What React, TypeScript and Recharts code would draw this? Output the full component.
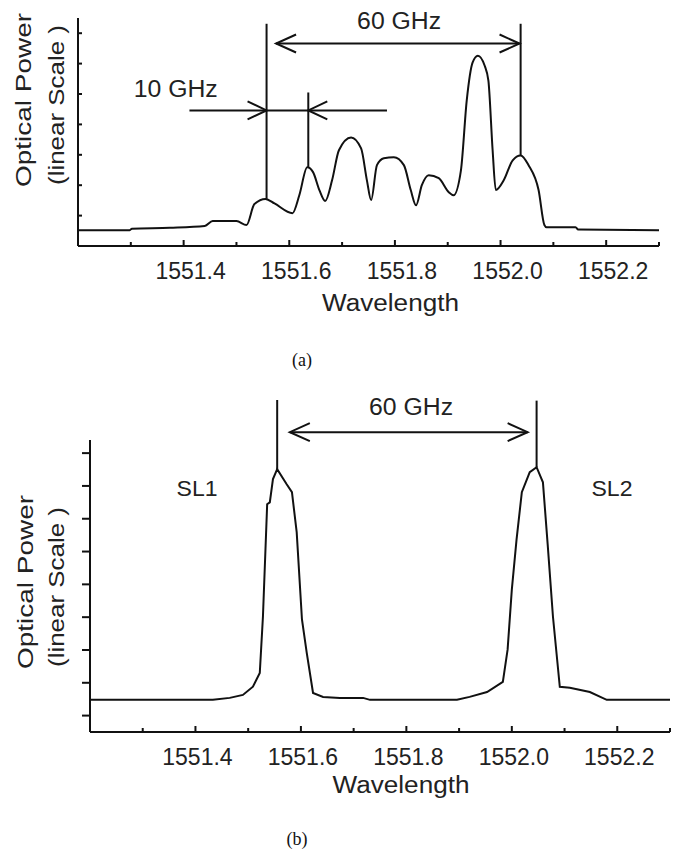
import React from 'react';
import { LineChart, Line, XAxis, YAxis, ReferenceLine, ReferenceDot, Label } from 'recharts';

// ---------- data ----------
const topWavelength = [
  1551.2, 1551.298, 1551.302, 1551.374, 1551.44, 1551.455, 1551.5, 1551.519, 1551.534, 1551.555,
  1551.572, 1551.606, 1551.619, 1551.634, 1551.645, 1551.657, 1551.668, 1551.681, 1551.694, 1551.717,
  1551.736, 1551.747, 1551.755, 1551.766, 1551.779, 1551.798, 1551.817, 1551.83, 1551.84, 1551.851,
  1551.864, 1551.883, 1551.902, 1551.911, 1551.925, 1551.936, 1551.947, 1551.957, 1551.97, 1551.977,
  1551.985, 1551.991, 1552.006, 1552.023, 1552.038, 1552.053, 1552.072, 1552.083, 1552.087, 1552.142,
  1552.147, 1552.3,
];
const topPower = [
  0.52, 0.52, 0.57, 0.6, 0.66, 0.82, 0.82, 0.69, 1.38, 1.55,
  1.4, 1.08, 1.67, 2.59, 2.43, 1.84, 1.48, 2.16, 3.15, 3.57,
  3.21, 2.16, 1.51, 2.66, 2.89, 2.92, 2.66, 1.84, 1.34, 2.0,
  2.33, 2.23, 1.77, 1.67, 2.49, 4.79, 6.03, 6.26, 5.93, 5.44,
  3.15, 1.84, 2.16, 2.82, 2.98, 2.66, 1.84, 0.69, 0.62, 0.62,
  0.54, 0.52,
];

const bottomWavelength = [
  1551.2, 1551.433, 1551.465, 1551.49, 1551.509, 1551.522, 1551.528, 1551.536, 1551.541, 1551.547,
  1551.555, 1551.573, 1551.583, 1551.592, 1551.602, 1551.611, 1551.623, 1551.642, 1551.674, 1551.718,
  1551.731, 1551.896, 1551.92, 1551.953, 1551.983, 1551.992, 1552.0, 1552.009, 1552.019, 1552.034,
  1552.047, 1552.059, 1552.068, 1552.078, 1552.091, 1552.11, 1552.148, 1552.18, 1552.3,
];
const bottomPower = [
  1.48, 1.48, 1.54, 1.63, 1.88, 2.3, 4.02, 7.44, 7.5, 8.21,
  8.51, 8.05, 7.81, 6.59, 3.93, 2.92, 1.69, 1.57, 1.54, 1.54,
  1.48, 1.48, 1.57, 1.72, 2.03, 3.01, 4.84, 6.37, 7.81, 8.42,
  8.57, 8.11, 6.22, 4.02, 1.88, 1.85, 1.72, 1.48, 1.48,
];

const xTicks = [1551.3, 1551.4, 1551.5, 1551.6, 1551.7, 1551.8, 1551.9, 1552.0, 1552.1, 1552.2, 1552.3];
const majorXTicks = [1551.4, 1551.6, 1551.8, 1552.0, 1552.2];
const xDomain = [1551.2, 1552.3];
const topYTicks = [1, 2, 3, 4, 5, 6, 7];
const topYDomain = [0, 7.5];
const bottomYTicks = [1, 2, 3, 4, 5, 6, 7, 8, 9];
const bottomYDomain = [0.5, 9.4];

// annotations (a)
const topMarkerX = [1551.557, 1551.636, 1552.038];
const topMarkerLow = [1.55, 2.6, 2.98];
const topMarkerHigh = [7.31, 5.05, 7.31];
const top60Span = [1551.575, 1552.036];
const top60Level = 6.66;
const top10Span = [1551.411, 1551.785];
const top10Level = 4.46;
const topTexts = ['60 GHz', '10 GHz'];
const topTextX = [1551.808, 1551.385];
const topTextY = [7.41, 5.18];

// annotations (b)
const bottomMarkerX = [1551.555, 1552.047];
const bottomMarkerLow = [8.51, 8.57];
const bottomMarkerHigh = [10.62, 10.6];
const bottom60Span = [1551.579, 1552.03];
const bottom60Level = 9.64;
const bottomTexts = ['60 GHz', 'SL1', 'SL2'];
const bottomTextX = [1551.809, 1551.403, 1552.19];
const bottomTextY = [10.41, 7.93, 7.93];

const axisTitleX = 'Wavelength';
const axisTitleY1 = 'Optical Power';
const axisTitleY2 = '(linear Scale )';

// ---------- helpers ----------
const SANS = '"Liberation Sans", Arial, Helvetica, sans-serif';
const INK = '#111';
const TEXT = '#222';

const makeXTick = (labelDx: number) => (props: any) => {
  const { x, y, payload } = props;
  const v = payload.value as number;
  const major = majorXTicks.some((m) => Math.abs(m - v) < 1e-6);
  return (
    <g>
      <line x1={x} x2={x} y1={y} y2={y - (major ? 6 : 4)} stroke={INK} strokeWidth={2} />
      {major && (
        <text x={x + labelDx} y={y + 33} textAnchor="middle" fontFamily={SANS} fontSize={23} fill={TEXT}>
          {v.toFixed(1)}
        </text>
      )}
    </g>
  );
};

const makeYTick = (len: number) => (props: any) => {
  const { x, y } = props;
  return <line x1={x} x2={x + len} y1={y} y2={y} stroke={INK} strokeWidth={2} />;
};

const arrowShape = (headStart: boolean, headEnd: boolean, len = 18, half = 8) => (props: any) => {
  const { x1, y1, x2, y2 } = props;
  const dx = x2 - x1;
  const dy = y2 - y1;
  const L = Math.hypot(dx, dy) || 1;
  const ux = dx / L;
  const uy = dy / L;
  const head = (tx: number, ty: number, dirx: number, diry: number) => {
    const bx = tx - dirx * len;
    const by = ty - diry * len;
    const px = -diry * half;
    const py = dirx * half;
    return (
      <path
        d={`M${bx + px},${by + py} L${tx},${ty} L${bx - px},${by - py}`}
        fill="none"
        stroke={INK}
        strokeWidth={2}
      />
    );
  };
  return (
    <g>
      <line x1={x1} y1={y1} x2={x2} y2={y2} stroke={INK} strokeWidth={2} />
      {headStart && head(x1, y1, -ux, -uy)}
      {headEnd && head(x2, y2, ux, uy)}
    </g>
  );
};

const textShape = (txt: string, size: number, length?: number) => (props: any) => {
  const { cx, cy } = props;
  return (
    <text
      x={cx}
      y={cy}
      textAnchor="middle"
      dominantBaseline="central"
      fontFamily={SANS}
      fontSize={size}
      fill={TEXT}
      textLength={length}
      lengthAdjust="spacingAndGlyphs"
    >
      {txt}
    </text>
  );
};

const xTitle = (dx: number, dy: number) => (props: any) => {
  const vb = props.viewBox || {};
  return (
    <text
      x={vb.x + vb.width / 2 + dx}
      y={vb.y + dy}
      textAnchor="middle"
      fontFamily={SANS}
      fontSize={23}
      fill={TEXT}
      textLength={137}
      lengthAdjust="spacingAndGlyphs"
    >
      {axisTitleX}
    </text>
  );
};

const yTitle = (x1: number, x2: number, cy1: number, cy2: number) => () => (
  <g>
    <text
      x={x1}
      y={cy1}
      transform={`rotate(-90, ${x1}, ${cy1})`}
      textAnchor="middle"
      fontFamily={SANS}
      fontSize={22}
      fill={TEXT}
      textLength={174}
      lengthAdjust="spacingAndGlyphs"
    >
      {axisTitleY1}
    </text>
    <text
      x={x2}
      y={cy2}
      transform={`rotate(-90, ${x2}, ${cy2})`}
      textAnchor="middle"
      fontFamily={SANS}
      fontSize={22}
      fill={TEXT}
      textLength={160}
      lengthAdjust="spacingAndGlyphs"
    >
      {axisTitleY2}
    </text>
  </g>
);

const topData = topWavelength.map((w, i) => ({ wl: w, p: topPower[i] }));
const bottomData = bottomWavelength.map((w, i) => ({ wl: w, p: bottomPower[i] }));

const captionStyle: React.CSSProperties = {
  position: 'absolute',
  fontFamily: '"Liberation Serif", "Times New Roman", serif',
  fontSize: 18,
  color: '#111',
  transform: 'translateX(-50%)',
  lineHeight: 1,
};

export default function App() {
  return (
    <div style={{ position: 'absolute', left: 0, top: 0, width: 679, height: 852, background: '#fff' }}>
      {/* (a) */}
      <div style={{ position: 'absolute', left: 0, top: 0 }}>
        <LineChart width={679} height={380} data={topData} margin={{ top: 18, right: 20, bottom: 104, left: 68 }}>
          <XAxis
            dataKey="wl"
            type="number"
            domain={xDomain}
            ticks={xTicks}
            interval={0}
            allowDataOverflow
            height={30}
            tickSize={0}
            tickMargin={0}
            tick={makeXTick(7)}
            axisLine={{ stroke: INK, strokeWidth: 2 }}
          >
            <Label content={xTitle(22, 65)} />
          </XAxis>
          <YAxis
            type="number"
            domain={topYDomain}
            ticks={topYTicks}
            interval={0}
            allowDataOverflow
            width={10}
            tickSize={0}
            tickMargin={0}
            tick={makeYTick(4)}
            axisLine={{ stroke: INK, strokeWidth: 2 }}
          >
            <Label content={yTitle(31, 64, 100, 105)} />
          </YAxis>
          <Line
            dataKey="p"
            type="monotone"
            stroke={INK}
            strokeWidth={2}
            dot={false}
            isAnimationActive={false}
          />
          {topMarkerX.map((x, i) => (
            <ReferenceLine
              key={`tv${i}`}
              segment={[{ x, y: topMarkerLow[i] }, { x, y: topMarkerHigh[i] }]}
              ifOverflow="visible"
              shape={arrowShape(false, false)}
            />
          ))}
          <ReferenceLine
            segment={[{ x: top60Span[0], y: top60Level }, { x: top60Span[1], y: top60Level }]}
            ifOverflow="visible"
            shape={arrowShape(true, true, 20, 9)}
          />
          <ReferenceLine
            segment={[{ x: top10Span[0], y: top10Level }, { x: topMarkerX[0], y: top10Level }]}
            ifOverflow="visible"
            shape={arrowShape(false, true, 19, 9)}
          />
          <ReferenceLine
            segment={[{ x: topMarkerX[0], y: top10Level }, { x: topMarkerX[1], y: top10Level }]}
            ifOverflow="visible"
            shape={arrowShape(false, false)}
          />
          <ReferenceLine
            segment={[{ x: top10Span[1], y: top10Level }, { x: topMarkerX[1], y: top10Level }]}
            ifOverflow="visible"
            shape={arrowShape(false, true, 19, 9)}
          />
          {topTexts.map((t, i) => (
            <ReferenceDot
              key={`tt${i}`}
              x={topTextX[i]}
              y={topTextY[i]}
              r={1}
              ifOverflow="visible"
              shape={textShape(t, 23, 84)}
            />
          ))}
        </LineChart>
      </div>
      <div style={{ ...captionStyle, left: 302, top: 351 }}>(a)</div>

      {/* (b) */}
      <div style={{ position: 'absolute', left: 0, top: 380 }}>
        <LineChart width={679} height={472} data={bottomData} margin={{ top: 60, right: 9, bottom: 90, left: 80 }}>
          <XAxis
            dataKey="wl"
            type="number"
            domain={xDomain}
            ticks={xTicks}
            interval={0}
            allowDataOverflow
            height={30}
            tickSize={0}
            tickMargin={0}
            tick={makeXTick(2)}
            axisLine={{ stroke: INK, strokeWidth: 2 }}
          >
            <Label content={xTitle(21, 61)} />
          </XAxis>
          <YAxis
            type="number"
            domain={bottomYDomain}
            ticks={bottomYTicks}
            interval={0}
            allowDataOverflow
            width={10}
            tickSize={0}
            tickMargin={0}
            tick={makeYTick(-8)}
            axisLine={{ stroke: INK, strokeWidth: 2 }}
          >
            <Label content={yTitle(33, 64, 202, 207)} />
          </YAxis>
          <Line
            dataKey="p"
            type="linear"
            stroke={INK}
            strokeWidth={2}
            dot={false}
            isAnimationActive={false}
          />
          {bottomMarkerX.map((x, i) => (
            <ReferenceLine
              key={`bv${i}`}
              segment={[{ x, y: bottomMarkerLow[i] }, { x, y: bottomMarkerHigh[i] }]}
              ifOverflow="visible"
              shape={arrowShape(false, false)}
            />
          ))}
          <ReferenceLine
            segment={[{ x: bottom60Span[0], y: bottom60Level }, { x: bottom60Span[1], y: bottom60Level }]}
            ifOverflow="visible"
            shape={arrowShape(true, true, 20, 9)}
          />
          {bottomTexts.map((t, i) => (
            <ReferenceDot
              key={`bt${i}`}
              x={bottomTextX[i]}
              y={bottomTextY[i]}
              r={1}
              ifOverflow="visible"
              shape={textShape(t, i === 0 ? 23 : 22, i === 0 ? 84 : 41)}
            />
          ))}
        </LineChart>
      </div>
      <div style={{ ...captionStyle, left: 297, top: 830 }}>(b)</div>
    </div>
  );
}
